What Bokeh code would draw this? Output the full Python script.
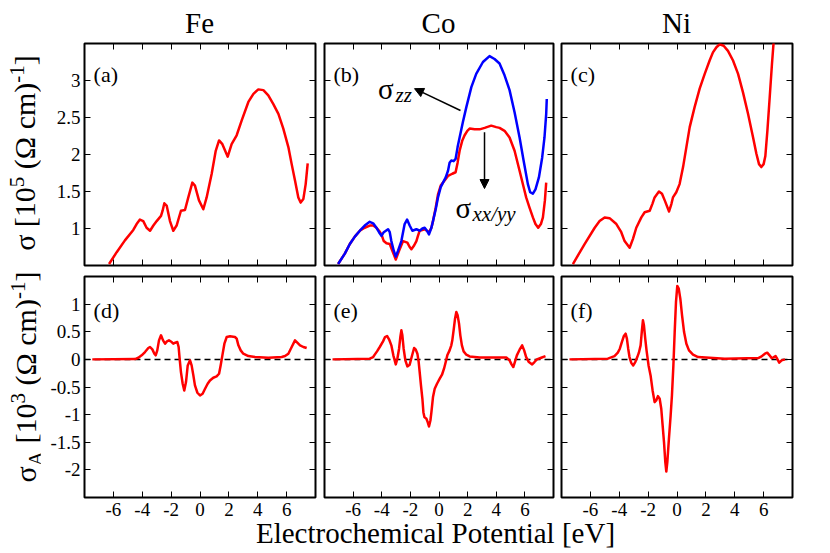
from bokeh.plotting import figure
from bokeh.layouts import column, row
from bokeh.models import (Div, Spacer, Span, Label, Arrow, NormalHead, LinearAxis,
                          FixedTicker, NumeralTickFormatter, CustomJSTickFormatter, Range1d)
from bokeh.embed import file_html
from bokeh.resources import INLINE

SERIF = "Liberation Serif, Times New Roman, Times, DejaVu Serif, serif"
SERIF_CSS = "'Liberation Serif', 'Times New Roman', Times, 'DejaVu Serif', serif"

# ---------------- data ----------------
X_TICKS = [-6, -4, -2, 0, 2, 4, 6]
TOP_Y_TICKS = [1, 1.5, 2, 2.5, 3]
BOT_Y_TICKS = [-2, -1.5, -1, -0.5, 0, 0.5, 1]
ELEMENTS = ["Fe", "Co", "Ni"]

fe_x = [-6.30, -5.77, -5.20, -4.62, -4.39, -4.16, -3.93, -3.70, -3.46, -3.23, -3.00, -2.70, -2.59,
        -2.47, -2.31, -2.08, -1.85, -1.62, -1.32, -1.04, -0.81, -0.53, -0.35, -0.07, 0.23, 0.46,
        0.81, 1.09, 1.32, 1.55, 1.92, 2.19, 2.54, 2.89, 3.35, 3.70, 4.04, 4.39, 4.73, 5.08, 5.43,
        5.77, 6.12, 6.35, 6.58, 6.81, 6.97, 7.16, 7.32, 7.46]
fe_sigma = [0.52, 0.68, 0.84, 0.98, 1.06, 1.12, 1.10, 1.01, 0.97, 1.04, 1.10, 1.17, 1.24,
            1.34, 1.31, 1.10, 0.97, 1.04, 1.24, 1.25, 1.42, 1.62, 1.58, 1.38, 1.26, 1.42,
            1.74, 2.05, 2.19, 2.14, 1.97, 2.14, 2.26, 2.46, 2.71, 2.82, 2.88, 2.87, 2.80, 2.68, 2.55,
            2.35, 2.10, 1.87, 1.65, 1.42, 1.35, 1.40, 1.60, 1.88]

co_zz_x = [-7.05, -6.58, -6.23, -5.88, -5.53, -5.19, -4.84, -4.60, -4.37, -4.19, -4.02, -3.86, -3.56,
           -3.44, -3.33, -3.16, -3.02, -2.86, -2.63, -2.40, -2.23, -2.05, -1.86, -1.58, -1.35, -1.16,
           -1.00, -0.84, -0.70, -0.53, -0.42, -0.23, -0.07, 0.12, 0.28, 0.47, 0.63, 0.74, 0.86, 1.02,
           1.16, 1.30, 1.44, 1.67, 1.91, 2.26, 2.60, 3.07, 3.53, 3.88, 4.23, 4.58, 4.93, 5.28, 5.63,
           5.91, 6.21, 6.37, 6.56, 6.74, 6.98, 7.21, 7.37, 7.49, 7.53]
co_sigma_zz = [0.52, 0.66, 0.79, 0.89, 0.97, 1.04, 1.09, 1.07, 1.01, 0.95, 0.90, 0.95, 0.99,
               0.95, 0.83, 0.70, 0.62, 0.70, 0.83, 1.06, 1.12, 1.04, 0.97, 0.99, 0.97, 1.00,
               1.01, 0.97, 0.92, 1.01, 1.10, 1.26, 1.42, 1.56, 1.62, 1.69, 1.78, 1.89, 1.92, 1.91,
               1.94, 2.10, 2.23, 2.44, 2.64, 2.91, 3.09, 3.25, 3.33, 3.29, 3.23, 3.07, 2.87, 2.57, 2.23,
               1.92, 1.60, 1.49, 1.47, 1.53, 1.69, 1.96, 2.23, 2.55, 2.75]

co_xx_x = [-7.05, -6.58, -6.23, -5.88, -5.53, -5.19, -4.84, -4.60, -4.37, -4.19, -4.02, -3.86, -3.67,
           -3.44, -3.26, -3.02, -2.79, -2.51, -2.21, -2.05, -1.93, -1.74, -1.58, -1.47, -1.35, -1.00,
           -0.70, -0.53, -0.42, -0.23, -0.07, 0.12, 0.28, 0.47, 0.63, 0.93, 1.16, 1.30, 1.44, 1.63,
           1.79, 1.98, 2.14, 2.49, 2.84, 3.19, 3.65, 4.00, 4.23, 4.58, 4.93, 5.28, 5.63, 5.91, 6.09,
           6.33, 6.56, 6.74, 6.93, 7.12, 7.26, 7.40, 7.49]
co_sigma_xx = [0.52, 0.66, 0.79, 0.89, 0.97, 1.01, 1.04, 1.04, 1.01, 0.97, 0.92, 0.83, 0.80,
               0.79, 0.70, 0.58, 0.70, 0.83, 0.81, 0.75, 0.72, 0.77, 0.83, 0.90, 0.97, 0.99,
               0.95, 1.01, 1.10, 1.28, 1.46, 1.58, 1.62, 1.67, 1.71, 1.74, 1.76, 1.89, 2.05, 2.19,
               2.26, 2.32, 2.35, 2.34, 2.34, 2.36, 2.39, 2.37, 2.36, 2.32, 2.23, 2.05, 1.78, 1.56, 1.42,
               1.28, 1.15, 1.06, 1.01, 1.06, 1.15, 1.38, 1.62]

ni_x = [-7.21, -6.40, -5.70, -5.36, -5.01, -4.67, -4.20, -3.86, -3.63, -3.28, -3.05, -2.82, -2.47,
        -2.24, -1.89, -1.71, -1.55, -1.25, -1.04, -0.85, -0.55, -0.39, -0.28, -0.05, 0.18, 0.42,
        0.65, 0.88, 1.22, 1.57, 1.92, 2.26, 2.49, 2.73, 2.96, 3.23, 3.53, 3.88, 4.23, 4.57, 4.92,
        5.27, 5.50, 5.68, 5.84, 6.00, 6.12, 6.26, 6.42, 6.58, 6.72]
ni_sigma = [0.52, 0.79, 1.01, 1.10, 1.15, 1.14, 1.06, 0.95, 0.83, 0.74, 0.86, 1.01, 1.15,
            1.22, 1.24, 1.33, 1.42, 1.50, 1.47, 1.38, 1.23, 1.33, 1.42, 1.49, 1.60, 1.83,
            2.10, 2.37, 2.64, 2.89, 3.09, 3.27, 3.38, 3.45, 3.49, 3.47, 3.40, 3.27, 3.09, 2.84, 2.55,
            2.23, 2.01, 1.87, 1.83, 1.87, 1.98, 2.32, 2.77, 3.23, 3.59]

fe_a_x = [-7.46, -4.50, -4.27, -4.04, -3.81, -3.58, -3.46, -3.30, -3.16, -3.07, -2.96, -2.84, -2.70,
          -2.56, -2.42, -2.29, -2.15, -1.96, -1.85, -1.71, -1.57, -1.48, -1.41, -1.32, -1.20, -1.09,
          -0.97, -0.85, -0.69, -0.58, -0.46, -0.35, -0.18, 0.00, 0.18, 0.35, 0.53, 0.69, 0.92, 1.15,
          1.32, 1.43, 1.55, 1.69, 1.85, 2.08, 2.42, 2.54, 2.66, 2.82, 3.00, 3.35, 3.81, 4.73, 5.66,
          5.89, 6.12, 6.35, 6.58, 6.74, 6.93, 7.16, 7.39]
fe_sigma_a = [0.0, 0.006, 0.03, 0.073, 0.133, 0.205, 0.224, 0.181, 0.103, 0.073, 0.163, 0.344, 0.435,
              0.344, 0.284, 0.326, 0.344, 0.314, 0.284, 0.302, 0.314, 0.224, 0.012, -0.23, -0.441, -0.562,
              -0.411, -0.109, -0.018, -0.109, -0.29, -0.471, -0.604, -0.653, -0.622, -0.532, -0.441,
              -0.381, -0.332, -0.308, -0.26, -0.109, 0.073, 0.284, 0.405, 0.417, 0.405, 0.375, 0.254,
              0.163, 0.103, 0.06, 0.042, 0.03, 0.042, 0.06, 0.103, 0.224, 0.344, 0.302, 0.254, 0.224, 0.205]

co_a_x = [-7.44, -4.84, -4.60, -4.49, -4.33, -4.14, -3.91, -3.77, -3.63, -3.49, -3.33, -3.19, -3.02,
          -2.91, -2.79, -2.70, -2.63, -2.56, -2.47, -2.35, -2.21, -2.05, -1.91, -1.74, -1.63, -1.51,
          -1.42, -1.35, -1.26, -1.16, -1.09, -1.02, -0.88, -0.79, -0.70, -0.60, -0.53, -0.42, -0.30,
          -0.14, 0.05, 0.21, 0.35, 0.47, 0.58, 0.74, 0.86, 0.93, 1.02, 1.12, 1.21, 1.30, 1.40, 1.49,
          1.60, 1.72, 1.91, 2.14, 2.84, 4.70, 4.93, 5.07, 5.19, 5.30, 5.44, 5.63, 5.81, 5.95, 6.09,
          6.28, 6.51, 6.67, 6.84, 7.14, 7.44]
co_sigma_a = [0.0, 0.012, 0.042, 0.085, 0.145, 0.224, 0.326, 0.405, 0.423, 0.363, 0.254, 0.073, -0.091,
              0.012, 0.193, 0.405, 0.526, 0.435, 0.193, -0.018, -0.127, -0.097, 0.042, 0.205, 0.181, 0.103,
              -0.048, -0.23, -0.471, -0.713, -0.955, -1.045, -1.076, -1.136, -1.215, -1.106, -0.955,
              -0.683, -0.532, -0.441, -0.35, -0.278, -0.169, -0.048, 0.073, 0.163, 0.254, 0.344, 0.526,
              0.737, 0.858, 0.798, 0.647, 0.435, 0.254, 0.145, 0.085, 0.054, 0.036, 0.036, -0.018, -0.091,
              -0.139, -0.048, 0.073, 0.175, 0.254, 0.163, 0.042, -0.048, -0.091, -0.048, 0.0, 0.03, 0.06]

ni_a_x = [-7.45, -4.79, -4.33, -4.10, -3.96, -3.82, -3.68, -3.56, -3.47, -3.38, -3.29, -3.17, -3.03,
          -2.89, -2.75, -2.64, -2.52, -2.43, -2.36, -2.29, -2.20, -2.11, -1.97, -1.83, -1.69, -1.55,
          -1.44, -1.32, -1.20, -1.09, -0.995, -0.90, -0.81, -0.74, -0.67, -0.56, -0.44, -0.35, -0.25,
          -0.16, -0.07, 0.02, 0.12, 0.23, 0.35, 0.49, 0.65, 0.83, 1.11, 1.46, 3.31, 5.63, 5.86, 6.09,
          6.25, 6.41, 6.55, 6.69, 6.83, 6.94, 7.08, 7.25, 7.48]
ni_sigma_a = [0.0, 0.012, 0.06, 0.121, 0.193, 0.314, 0.423, 0.465, 0.375, 0.193, 0.042, -0.06, -0.109,
              -0.048, 0.042, 0.121, 0.254, 0.526, 0.707, 0.616, 0.375, 0.163, -0.109, -0.29, -0.562,
              -0.774, -0.744, -0.665, -0.713, -0.894, -1.196, -1.498, -1.861, -2.03, -1.861, -1.438,
              -1.015, -0.653, -0.109, 0.495, 1.039, 1.329, 1.281, 1.1, 0.798, 0.495, 0.284, 0.163, 0.085,
              0.042, 0.012, 0.024, 0.054, 0.103, 0.121, 0.073, 0.024, 0.036, 0.06, 0.012, -0.06, -0.018, 0.0]


# ---------------- helpers ----------------
def style_axis(ax, ticks, labels, fmt="0.[0]", standoff=4):
    ax.ticker = FixedTicker(ticks=ticks)
    ax.axis_line_color = None
    ax.major_tick_in = 6
    ax.major_tick_out = 0
    ax.minor_tick_line_color = None
    ax.major_tick_line_color = "black"
    ax.major_tick_line_width = 1
    if labels:
        ax.formatter = NumeralTickFormatter(format=fmt)
        ax.major_label_text_font = SERIF
        ax.major_label_text_font_size = "19px"
        ax.major_label_text_color = "black"
        ax.major_label_standoff = standoff
    else:
        ax.formatter = CustomJSTickFormatter(code="return ''")
        ax.major_label_standoff = 0
        ax.major_label_text_font_size = "1px"


def panel(width, height, bl, br, bt, bb, yr, yticks, ylabels, xlabels):
    p = figure(width=width, height=height, x_range=Range1d(-8, 8), y_range=Range1d(*yr),
               output_backend="svg", toolbar_location=None, title=None,
               min_border_left=bl, min_border_right=br, min_border_top=bt, min_border_bottom=bb)
    p.outline_line_color = "black"
    p.outline_line_width = 2
    p.outline_line_alpha = 1
    p.xgrid.visible = False
    p.ygrid.visible = False
    p.background_fill_color = "white"
    p.border_fill_color = "white"
    style_axis(p.xaxis[0], X_TICKS, xlabels, fmt="0", standoff=5)
    style_axis(p.yaxis[0], yticks, ylabels)
    top = LinearAxis()
    style_axis(top, X_TICKS, False)
    p.add_layout(top, "above")
    right = LinearAxis()
    style_axis(right, yticks, False)
    p.add_layout(right, "right")
    return p


def tag(p, text, y):
    p.add_layout(Label(x=-7.37, y=y, text=text, text_font=SERIF, text_font_size="22px",
                       text_baseline="alphabetic", text_color="black"))


def zero_line(p):
    p.add_layout(Span(location=0, dimension="width", line_color="black", line_dash="6 4",
                      line_width=1.5, level="underlay"))


RED = "#ff0000"
BLUE = "#0000ff"
LW = 2.5
TOP_R = (0.5, 3.5)
BOT_R = (-2.5, 1.5)
FH_TOP = 5 + 222 + 4
FH_BOT = 7 + 221 + 28

# top row
pa = panel(279, FH_TOP, 44, 4, 5, 4, TOP_R, TOP_Y_TICKS, True, False)
pb = panel(238, FH_TOP, 5, 4, 5, 4, TOP_R, TOP_Y_TICKS, False, False)
pc = panel(241, FH_TOP, 4, 6, 5, 4, TOP_R, TOP_Y_TICKS, False, False)

pa.line(fe_x, fe_sigma, color=RED, line_width=LW, line_join="round")
pb.line(co_xx_x, co_sigma_xx, color=RED, line_width=LW, line_join="round")
pb.line(co_zz_x, co_sigma_zz, color=BLUE, line_width=LW, line_join="round")
pc.line(ni_x, ni_sigma, color=RED, line_width=LW, line_join="round")
for p, t in zip([pa, pb, pc], ["(a)", "(b)", "(c)"]):
    tag(p, t, 3.08)

# annotations in (b)
pb.add_layout(Arrow(end=NormalHead(size=9, fill_color="black", line_color="black"),
                    x_start=1.5, y_start=2.595, x_end=-1.71, y_end=2.89,
                    line_color="black", line_width=1.5))
pb.add_layout(Arrow(end=NormalHead(size=9, fill_color="black", line_color="black"),
                    x_start=3.18, y_start=2.30, x_end=3.18, y_end=1.54,
                    line_color="black", line_width=1.5))
pb.add_layout(Label(x=-4.26, y=2.89, text="σ", text_font=SERIF, text_font_size="29px",
                    text_baseline="alphabetic", text_color="black"))
pb.add_layout(Label(x=-3.04, y=2.80, text="zz", text_font=SERIF, text_font_size="21px",
                    text_font_style="italic", text_baseline="alphabetic", text_color="black"))
pb.add_layout(Label(x=1.15, y=1.28, text="σ", text_font=SERIF, text_font_size="29px",
                    text_baseline="alphabetic", text_color="black"))
pb.add_layout(Label(x=2.34, y=1.20, text="xx/yy", text_font=SERIF, text_font_size="21px",
                    text_font_style="italic", text_baseline="alphabetic", text_color="black"))

# bottom row
pd = panel(279, FH_BOT, 44, 4, 7, 28, BOT_R, BOT_Y_TICKS, True, True)
pe = panel(238, FH_BOT, 5, 4, 7, 28, BOT_R, BOT_Y_TICKS, False, True)
pf = panel(241, FH_BOT, 4, 6, 7, 28, BOT_R, BOT_Y_TICKS, False, True)

for p in (pd, pe, pf):
    zero_line(p)
pd.line(fe_a_x, fe_sigma_a, color=RED, line_width=LW, line_join="round")
pe.line(co_a_x, co_sigma_a, color=RED, line_width=LW, line_join="round")
pf.line(ni_a_x, ni_sigma_a, color=RED, line_width=LW, line_join="round")
for p, t in zip([pd, pe, pf], ["(d)", "(e)", "(f)"]):
    tag(p, t, 0.885)


# ---------------- outside texts (HTML) ----------------
def abs_div(width, height, cx, top, inner, rotate=False, size=29):
    tr = "translate(-50%,-50%) rotate(-90deg)" if rotate else "translateX(-50%)"
    return Div(width=width, height=height, margin=0, text=(
        f'<div style="position:relative;width:{width}px;height:{height}px;">'
        f'<div style="position:absolute;left:{cx}px;top:{top}px;transform:{tr};'
        f'white-space:nowrap;font-family:{SERIF_CSS};font-size:{size}px;line-height:1;color:black;">'
        f'{inner}</div></div>'))


TITLE_H = 38
LAB_W = 40

title_row = row(Spacer(width=LAB_W, height=TITLE_H, margin=0),
                abs_div(279, TITLE_H, 159.5, 9, ELEMENTS[0]),
                abs_div(238, TITLE_H, 119.5, 9, ELEMENTS[1]),
                abs_div(241, TITLE_H, 119.5, 9, ELEMENTS[2]))

ylab_top = abs_div(LAB_W, FH_TOP, 23, 114.5,
                   'σ [10<sup style="font-size:70%">5</sup> (Ω cm)<sup style="font-size:70%">-1</sup>]',
                   rotate=True, size=30)
ylab_bot = abs_div(LAB_W, FH_BOT, 27, 108,
                   'σ<sub style="font-size:70%">A</sub> [10<sup style="font-size:70%">3</sup> (Ω cm)'
                   '<sup style="font-size:70%">-1</sup>]', rotate=True, size=30)

xlab = abs_div(LAB_W + 758, 20, 435.5, -6, "Electrochemical Potential [eV]")

layout = column(title_row, row(ylab_top, pa, pb, pc), row(ylab_bot, pd, pe, pf), xlab)

open("out.html", "w").write(file_html(layout, INLINE))
